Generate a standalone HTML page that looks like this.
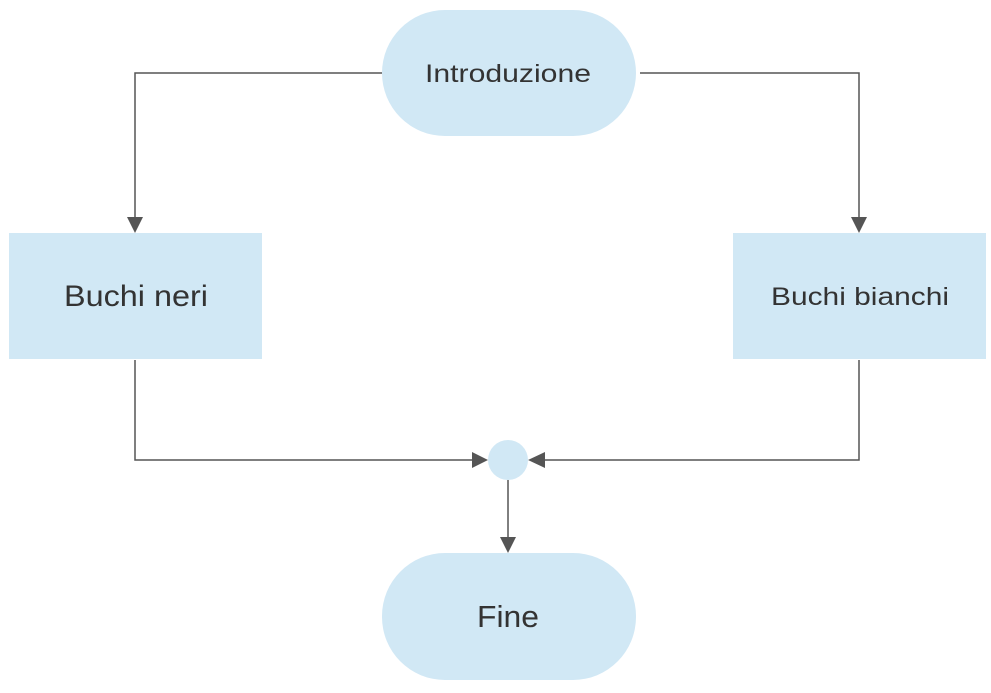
<!DOCTYPE html>
<html><head><meta charset="utf-8"><style>html,body{margin:0;padding:0;background:#fff}svg{display:block}</style></head>
<body>
<svg width="991" height="693" viewBox="0 0 991 693" xmlns="http://www.w3.org/2000/svg" font-family="Liberation Sans, Arial, sans-serif" fill="#333">
<g fill="#d1e8f5">
<rect x="382" y="10" width="254" height="126" rx="63"/>
<rect x="9" y="233" width="253" height="126"/>
<rect x="733" y="233" width="253" height="126"/>
<circle cx="508" cy="460" r="20"/>
<rect x="382" y="553" width="254" height="127" rx="63"/>
</g>
<g stroke="#555" stroke-width="1.5" fill="none">
<polyline points="382,73 135,73 135,218"/>
<polyline points="640,73 859,73 859,218"/>
<polyline points="135,360 135,460 473,460"/>
<polyline points="859,360 859,460 543,460"/>
<line x1="508" y1="480" x2="508" y2="538"/>
</g>
<g fill="#555">
<polygon points="127,217 143,217 135,233"/>
<polygon points="851,217 867,217 859,233"/>
<polygon points="472,452 472,468 488,460"/>
<polygon points="545,452 545,468 528,460"/>
<polygon points="500,537 516,537 508,553"/>
</g>
<g text-anchor="middle">
<text x="508" y="82" font-size="25" textLength="166" lengthAdjust="spacingAndGlyphs">Introduzione</text>
<text x="136" y="306" font-size="30" textLength="144" lengthAdjust="spacingAndGlyphs">Buchi neri</text>
<text x="860" y="305" font-size="25" textLength="178" lengthAdjust="spacingAndGlyphs">Buchi bianchi</text>
<text x="508" y="627" font-size="31" textLength="62" lengthAdjust="spacingAndGlyphs">Fine</text>
</g>
</svg>
</body></html>
